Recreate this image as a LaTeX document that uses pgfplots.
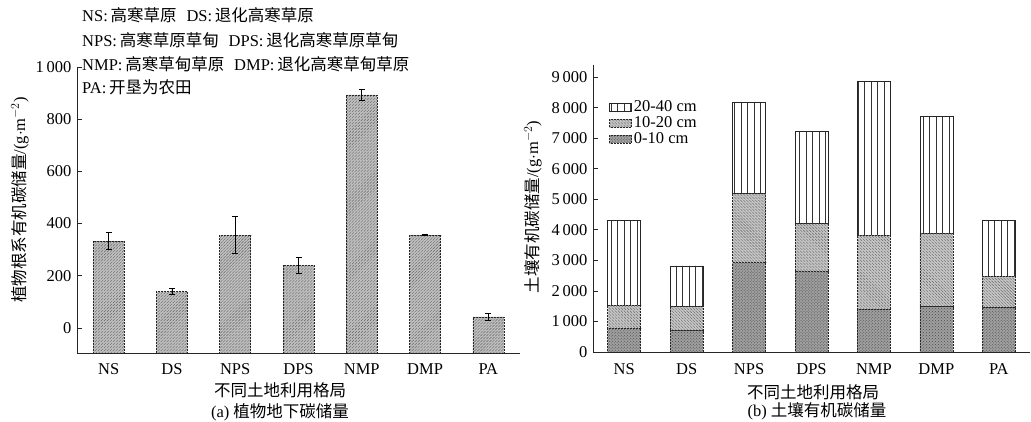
\documentclass[border=0pt]{standalone}
\usepackage{fontspec}
\setmainfont{Liberation Serif}
\newfontfamily\cjk{Noto Sans CJK SC}
\usepackage{pgfplots}
\pgfplotsset{compat=1.18}
\usetikzlibrary{patterns,patterns.meta}
\pgfplotsset{
  mystyle/.style={
    scale only axis,
    axis x line=bottom, axis y line=left,
    axis line style={-, line width=0.8bp, black!85},
    tick align=inside,
    xtick={0,...,6},
    xticklabels={NS,DS,NPS,DPS,NMP,DMP,PA},
    xmin=-0.5, xmax=6.5,
    x tick style={draw=none},
    y tick style={line width=0.8bp, black!85},
    major tick length=5bp,
    tick label style={font=\fontsize{16.5bp}{19bp}\selectfont},
    /pgf/number format/assume math mode=true,
    /pgf/number format/1000 sep={\,},
  }
}
\begin{document}
\fontsize{16.5bp}{19bp}\selectfont
\begin{tikzpicture}
\useasboundingbox (0,0) rectangle (1031bp,422bp);
% ---------- left panel ----------
\begin{axis}[mystyle, at={(77bp,69bp)}, anchor=south west,
  width=443bp, height=286bp,
  y coord trafo/.code={\pgfmathparse{#1+96}},
  y coord inv trafo/.code={\pgfmathparse{#1-96}},
  ymin=-96, ymax=1000, ytick={0,200,...,1000},
  ybar, bar width=31bp]
\addplot[draw=black!85, line width=0.7bp, dash pattern=on 2bp off 1bp, fill=gray!50,
  postaction={pattern=north east lines, pattern color=black!60},
  error bars/.cd, y dir=both, y explicit,
  error bar style={black, line width=0.7bp, solid},
  error mark options={rotate=90, mark size=3bp, black, line width=0.7bp, solid}]
coordinates {
 (0,333) +- (0,32)
 (1,139) +- (0,12)
 (2,356) +- (0,70)
 (3,241) +- (0,30)
 (4,893) +- (0,20)
 (5,356) +- (0,3)
 (6,42)  +- (0,13)
};
\end{axis}
% ---------- right panel ----------
\begin{axis}[mystyle, at={(593bp,70bp)}, anchor=south west,
  width=437bp, height=287bp,
  ymin=0, ymax=9400, ytick={0,1000,...,9000},
  xticklabel style={yshift=-6bp},
  ybar stacked, bar width=33bp,
  reverse legend,
  legend style={at={(0.03,0.89)}, anchor=north west, draw=none, fill=none,
    font=\fontsize{16.5bp}{19bp}\selectfont, row sep=-1.5bp},
  legend cell align=left,
  legend image code/.code={\draw[#1] (0bp,-4bp) rectangle (22bp,4bp);}]
\addplot[draw=black!85, line width=0.7bp, dash pattern=on 2bp off 1bp, fill=gray!75,
  postaction={pattern=crosshatch dots, pattern color=black!70}]
coordinates {(0,780) (1,700) (2,2920) (3,2650) (4,1400) (5,1480) (6,1450)};
\addlegendentry{0-10 cm}
\addplot[draw=black!85, line width=0.7bp, dash pattern=on 2bp off 1bp, fill=gray!45,
  postaction={pattern=north west lines, pattern color=black!60}]
coordinates {(0,750) (1,780) (2,2260) (3,1550) (4,2420) (5,2400) (6,1030)};
\addlegendentry{10-20 cm}
\addplot[draw=black!85, line width=0.7bp, fill=white,
  postaction={pattern={Lines[angle=90,distance=6.5bp,line width=0.8bp]}, pattern color=black!80}]
coordinates {(0,2770) (1,1340) (2,3000) (3,3020) (4,5030) (5,3840) (6,1820)};
\addlegendentry{20-40 cm}
\end{axis}
% ---------- texts ----------
\node[anchor=west, inner sep=0] at (82bp,407bp) {NS:\,{\cjk 高寒草原}\hspace{0.6em}DS:\,{\cjk 退化高寒草原}};
\node[anchor=west, inner sep=0] at (82bp,382bp) {NPS:\,{\cjk 高寒草原草甸}\hspace{0.6em}DPS:\,{\cjk 退化高寒草原草甸}};
\node[anchor=west, inner sep=0] at (82bp,358bp) {NMP:\,{\cjk 高寒草甸草原}\hspace{0.6em}DMP:\,{\cjk 退化高寒草甸草原}};
\node[anchor=west, inner sep=0] at (82bp,335bp) {PA:\,{\cjk 开垦为农田}};
\node[rotate=90, inner sep=0] at (20bp,222bp) {{\cjk 植物根系有机碳储量}/(g$\cdot$m$^{-2}$)};
\node[rotate=90, inner sep=0] at (533bp,215bp) {{\cjk 土壤有机碳储量}/(g$\cdot$m$^{-2}$)};
\node[inner sep=0] at (280bp,32bp) {\cjk 不同土地利用格局};
\node[inner sep=0] at (280bp,10bp) {(a) {\cjk 植物地下碳储量}};
\node[inner sep=0] at (813bp,30bp) {\cjk 不同土地利用格局};
\node[inner sep=0] at (817bp,11bp) {(b) {\cjk 土壤有机碳储量}};
\end{tikzpicture}
\end{document}
